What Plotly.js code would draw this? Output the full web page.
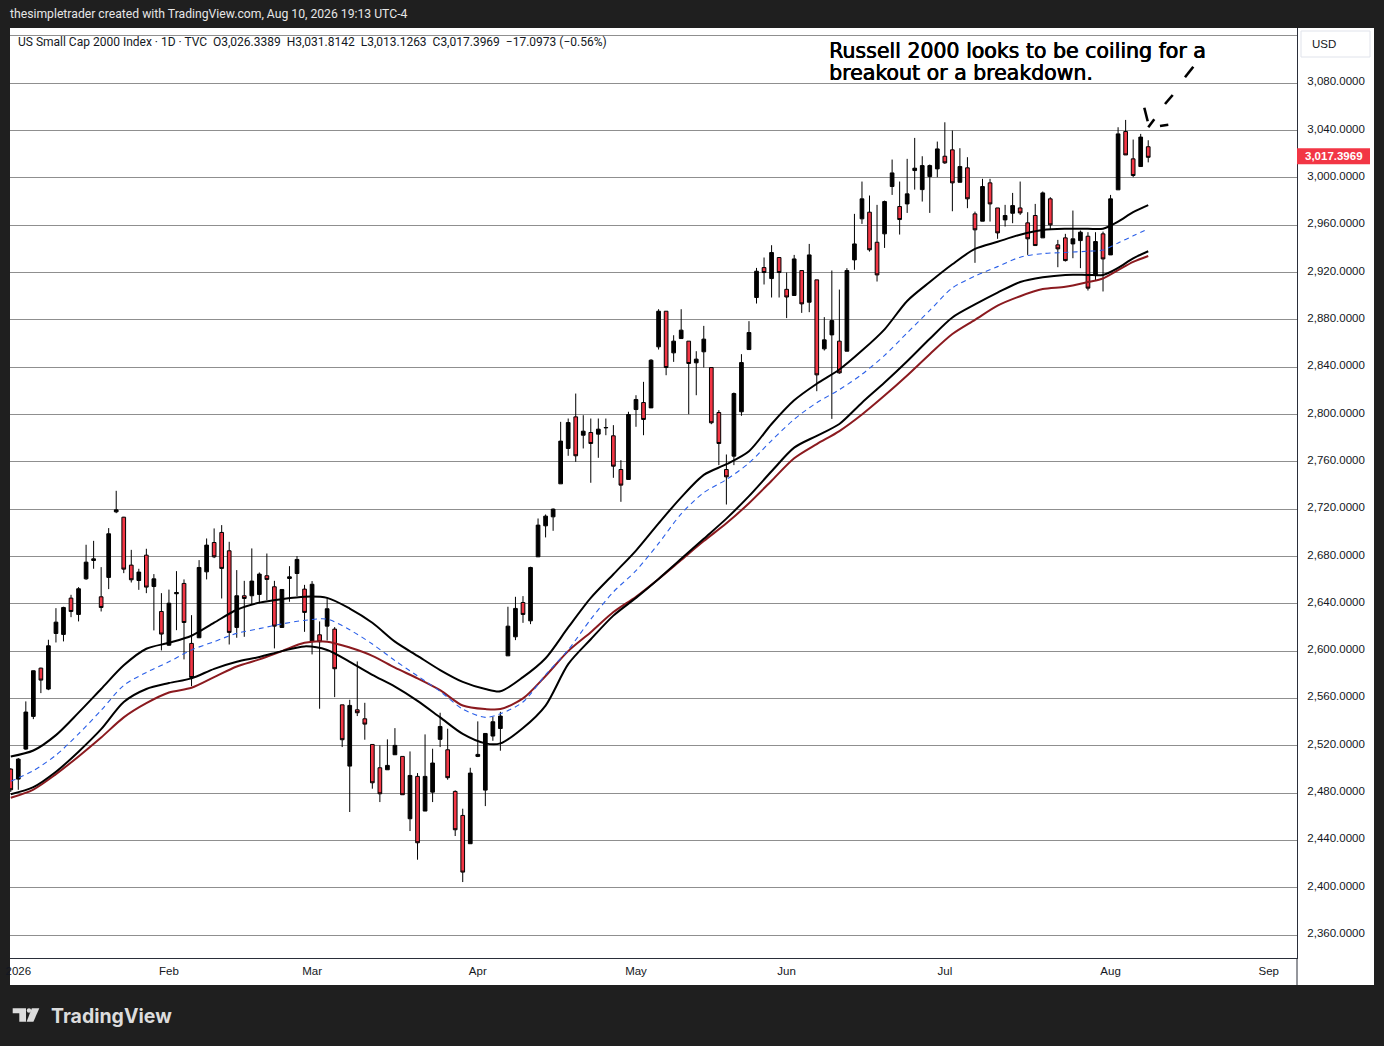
<!DOCTYPE html>
<html>
<head>
<meta charset="utf-8">
<script src="https://cdn.plot.ly/plotly-3.0.1.min.js"></script>
<style>
html,body{margin:0;padding:0;background:#1f1f1f;overflow:hidden;}
#chart{width:1384px;height:1046px;}
</style>
</head>
<body>
<div id="chart"></div>
<script>
// ---------- DATA ----------
const dates = [
'2025-12-31',
'2026-01-02','2026-01-05','2026-01-06','2026-01-07','2026-01-08','2026-01-09','2026-01-12','2026-01-13','2026-01-14','2026-01-15','2026-01-16','2026-01-20','2026-01-21','2026-01-22','2026-01-23','2026-01-26','2026-01-27','2026-01-28','2026-01-29','2026-01-30',
'2026-02-02','2026-02-03','2026-02-04','2026-02-05','2026-02-06','2026-02-09','2026-02-10','2026-02-11','2026-02-12','2026-02-13','2026-02-17','2026-02-18','2026-02-19','2026-02-20','2026-02-23','2026-02-24','2026-02-25','2026-02-26','2026-02-27',
'2026-03-02','2026-03-03','2026-03-04','2026-03-05','2026-03-06','2026-03-09','2026-03-10','2026-03-11','2026-03-12','2026-03-13','2026-03-16','2026-03-17','2026-03-18','2026-03-19','2026-03-20','2026-03-23','2026-03-24','2026-03-25','2026-03-26','2026-03-27','2026-03-30','2026-03-31',
'2026-04-01','2026-04-02','2026-04-06','2026-04-07','2026-04-08','2026-04-09','2026-04-10','2026-04-13','2026-04-14','2026-04-15','2026-04-16','2026-04-17','2026-04-20','2026-04-21','2026-04-22','2026-04-23','2026-04-24','2026-04-27','2026-04-28','2026-04-29','2026-04-30',
'2026-05-01','2026-05-04','2026-05-05','2026-05-06','2026-05-07','2026-05-08','2026-05-11','2026-05-12','2026-05-13','2026-05-14','2026-05-15','2026-05-18','2026-05-19','2026-05-20','2026-05-21','2026-05-22','2026-05-26','2026-05-27','2026-05-28','2026-05-29',
'2026-06-01','2026-06-02','2026-06-03','2026-06-04','2026-06-05','2026-06-08','2026-06-09','2026-06-10','2026-06-11','2026-06-12','2026-06-15','2026-06-16','2026-06-17','2026-06-18','2026-06-22','2026-06-23','2026-06-24','2026-06-25','2026-06-26','2026-06-29','2026-06-30',
'2026-07-01','2026-07-02','2026-07-06','2026-07-07','2026-07-08','2026-07-09','2026-07-10','2026-07-13','2026-07-14','2026-07-15','2026-07-16','2026-07-17','2026-07-20','2026-07-21','2026-07-22','2026-07-23','2026-07-24','2026-07-27','2026-07-28','2026-07-29','2026-07-30','2026-07-31',
'2026-08-03','2026-08-04','2026-08-05','2026-08-06','2026-08-07','2026-08-10'
];
// empty trading days shown to the right of the last bar
const futureDays = [
'2026-08-11','2026-08-12','2026-08-13','2026-08-14','2026-08-17','2026-08-18','2026-08-19','2026-08-20','2026-08-21',
'2026-08-24','2026-08-25','2026-08-26','2026-08-27','2026-08-28','2026-08-31','2026-09-01','2026-09-02','2026-09-03','2026-09-04'
];

const open = [
2500.3,
2491.8,2517.2,2544.8,2585.6,2567.9,2614.9,2614.1,2644.8,2631.0,2661.1,2676.6,2645.9,2662.3,2717.7,2713.2,2672.7,2659.7,2681.1,2654.6,2633.5,
2605.0,2648.5,2657.2,2606.5,2611.3,2667.0,2691.8,2700.3,2684.8,2620.0,2646.8,2646.8,2647.9,2663.7,2654.4,2620.0,2661.4,2665.6,2652.4,
2608.5,2613.8,2621.1,2618.6,2554.6,2502.8,2550.4,2542.8,2521.1,2501.4,2499.7,2512.4,2511.0,2458.3,2494.1,2464.8,2480.8,2525.4,2516.6,2481.4,2461.1,2437.2,
2511.0,2482.5,2528.2,2534.6,2596.0,2612.1,2641.1,2625.6,2679.7,2705.9,2713.5,2741.4,2771.3,2798.0,2782.5,2784.8,2783.4,2788.7,2782.0,2753.5,2745.1,
2804.2,2810.1,2805.6,2857.2,2887.3,2852.1,2864.2,2862.0,2843.7,2853.0,2839.7,2801.7,2753.5,2764.8,2802.3,2854.9,2898.9,2924.2,2914.9,2932.7,
2905.8,2900.6,2921.7,2894.9,2913.8,2855.5,2867.3,2862.0,2853.5,2930.7,2965.4,2971.0,2945.6,2952.7,2992.7,2975.8,2978.0,3006.2,2990.1,3001.1,3007.6,
3018.3,3023.7,2996.3,3008.5,2969.6,2963.4,2995.8,2974.6,2964.5,2970.1,2974.6,2962.0,2968.2,2949.3,2982.3,2943.4,2949.3,2944.2,2947.0,2950.7,2918.0,2952.7,
2934.9,2989.9,3039.2,3016.1,3009.6,3026.3389
];
const high = [
2501.0,
2509.6,2557.5,2583.6,2586.0,2609.6,2636.3,2637.5,2647.6,2654.1,2689.9,2693.2,2671.0,2704.0,2735.5,2713.5,2685.6,2669.6,2686.5,2665.1,2649.0,
2652.0,2667.6,2660.6,2630.4,2676.9,2695.2,2703.7,2706.5,2692.4,2668.5,2659.4,2686.8,2666.5,2682.5,2659.4,2652.1,2671.8,2680.3,2656.0,
2659.2,2625.1,2644.8,2620.3,2554.6,2558.9,2591.3,2556.3,2521.1,2520.3,2525.4,2534.9,2511.0,2515.2,2496.9,2529.6,2517.5,2547.9,2534.4,2482.3,2466.8,2501.4,
2540.6,2530.4,2544.5,2548.7,2637.5,2645.9,2646.5,2671.3,2712.1,2715.5,2720.6,2793.8,2796.6,2817.7,2799.4,2796.6,2796.6,2796.6,2791.0,2761.4,2802.3,
2816.3,2827.6,2846.8,2889.0,2887.3,2867.0,2889.0,2862.0,2853.5,2874.9,2839.7,2803.7,2766.2,2818.6,2851.0,2878.9,2923.9,2932.7,2943.1,2932.7,
2920.0,2934.9,2921.7,2944.2,2913.8,2882.3,2921.7,2905.6,2923.7,2969.6,2996.9,2985.1,2977.2,2980.8,3015.5,2996.9,3016.1,3033.8,3018.3,3011.3,3030.7,
3047.0,3040.0,3025.1,3017.5,2971.5,2999.2,2999.2,2974.6,2977.2,2987.3,2996.9,2971.0,2978.0,2988.5,2983.7,2947.6,2952.7,2972.4,2955.5,2954.1,2954.1,2954.6,
2985.6,3042.8,3049.0,3032.4,3037.2,3031.8142
];
const low = [
2481.0,
2482.8,2516.6,2542.5,2564.5,2567.0,2607.3,2608.2,2628.7,2625.1,2660.3,2669.6,2633.5,2652.4,2716.6,2665.9,2658.0,2651.8,2649.0,2617.5,2600.6,
2604.5,2617.7,2593.0,2570.4,2611.0,2660.6,2678.6,2644.5,2605.6,2611.3,2612.1,2639.4,2640.3,2643.1,2602.3,2620.0,2641.7,2646.5,2616.3,
2597.2,2551.3,2609.0,2561.1,2518.9,2464.0,2545.1,2525.1,2483.7,2472.4,2499.7,2512.4,2478.6,2447.9,2423.7,2464.8,2472.4,2518.9,2491.3,2443.7,2404.8,2437.2,
2510.4,2469.0,2524.2,2515.8,2596.0,2609.3,2623.9,2622.8,2679.7,2696.1,2701.7,2741.4,2765.1,2760.0,2771.3,2742.3,2763.4,2782.5,2746.5,2726.2,2745.1,
2789.6,2782.5,2805.6,2854.9,2833.2,2844.5,2864.2,2800.3,2816.3,2839.7,2791.8,2757.2,2723.9,2757.2,2798.9,2854.9,2893.8,2909.9,2898.9,2898.9,
2881.5,2900.6,2885.9,2886.5,2819.7,2854.1,2796.3,2834.4,2853.5,2922.3,2961.1,2937.7,2912.4,2940.8,2985.6,2952.1,2970.4,2990.1,2980.0,2970.4,3000.6,
3011.8,2971.8,2996.3,2974.4,2928.2,2963.4,2963.1,2948.5,2958.9,2961.7,2968.7,2934.9,2942.8,2949.3,2956.1,2924.5,2929.3,2932.1,2923.7,2904.8,2913.2,2904.0,
2934.9,2989.9,3019.4,3000.6,3009.6,3013.1263
];
const close = [
2482.8,
2508.7,2548.5,2583.4,2575.5,2604.5,2624.5,2636.9,2633.5,2652.7,2675.2,2678.0,2636.9,2699.2,2719.4,2669.3,2660.3,2666.8,2654.1,2661.1,2614.4,
2640.5,2649.5,2624.2,2577.7,2670.7,2689.6,2679.7,2669.9,2615.8,2646.8,2644.5,2659.2,2665.1,2660.6,2621.1,2652.1,2662.8,2677.5,2632.7,
2656.5,2607.9,2635.8,2585.1,2525.1,2554.1,2547.9,2538.3,2488.7,2479.4,2503.4,2520.3,2478.6,2494.9,2438.0,2494.1,2505.4,2536.3,2493.0,2449.0,2413.2,2496.9,
2512.7,2530.4,2540.3,2545.1,2621.1,2636.1,2631.0,2670.7,2706.5,2714.1,2720.0,2777.5,2793.2,2765.1,2785.9,2775.5,2787.6,2789.0,2756.3,2740.3,2800.0,
2812.7,2795.8,2845.9,2887.3,2839.7,2862.0,2871.3,2843.1,2846.8,2863.7,2793.0,2775.5,2747.3,2817.7,2843.9,2869.3,2921.1,2920.0,2936.9,2920.0,
2899.3,2931.5,2893.5,2934.9,2833.5,2863.1,2879.4,2835.2,2921.7,2944.2,2982.3,2939.2,2918.0,2980.0,3004.2,2964.8,2986.5,3008.2,3010.4,3010.4,3024.5,
3012.7,2995.8,3009.6,2982.3,2956.1,2992.7,2978.0,2953.5,2968.2,2976.6,2970.4,2948.5,2942.8,2987.3,2960.3,2940.0,2930.1,2948.5,2954.1,2906.8,2946.2,2931.5,
2982.3,3037.2,3019.4,3002.0,3034.5,3017.3969
];

// moving-average lines at sample dates
const maDates = ['2025-12-31','2026-01-06','2026-01-09','2026-01-14','2026-01-20','2026-01-23','2026-01-28','2026-02-02','2026-02-05','2026-02-10','2026-02-13','2026-02-19','2026-02-24','2026-02-27','2026-03-04','2026-03-09','2026-03-12','2026-03-17','2026-03-20','2026-03-25','2026-03-30','2026-04-02','2026-04-07','2026-04-10','2026-04-15','2026-04-20','2026-04-23','2026-04-28','2026-05-01','2026-05-06','2026-05-11','2026-05-14','2026-05-19','2026-05-22','2026-05-28','2026-06-02','2026-06-05','2026-06-10','2026-06-15','2026-06-18','2026-06-24','2026-06-29','2026-07-02','2026-07-08','2026-07-13','2026-07-16','2026-07-21','2026-07-24','2026-07-29','2026-07-31','2026-08-04','2026-08-06','2026-08-10'];
const maUpper = [2511,2516,2529,2548,2568,2588,2602,2607,2613,2624,2635,2641,2644,2646,2645,2636,2624,2608,2596,2584,2574,2568,2566,2578,2594,2620,2645,2665,2685,2708,2730,2749,2758,2769,2792,2812,2826,2838,2854,2872,2896,2912,2927,2940,2946,2952,2956,2957,2957,2957,2963,2971,2977];
const maBlue  = [2490,2499,2512,2530,2550,2571,2582,2591,2601,2608,2615,2619,2623,2626,2627,2618,2606,2592,2579,2566,2551,2544,2547,2557,2580,2601,2627,2650,2668,2691,2716,2734,2745,2759,2778,2796,2810,2821,2834,2850,2869,2888,2907,2917,2925,2933,2936,2937,2938,2939,2945,2951,2957];
const maLower = [2479,2485,2498,2515,2534,2557,2568,2573,2577,2585,2591,2595,2600,2604,2601,2591,2580,2570,2558,2544,2530,2522,2522,2535,2554,2589,2610,2630,2645,2661,2678,2695,2712,2731,2752,2772,2782,2792,2810,2827,2845,2864,2882,2893,2903,2912,2916,2918,2918,2918,2924,2932,2938];
const maRed   = [2476,2483,2496,2511,2527,2544,2556,2565,2569,2578,2587,2593,2600,2607,2608,2603,2596,2586,2577,2567,2554,2551,2551,2560,2579,2600,2616,2633,2646,2661,2677,2693,2708,2725,2744,2763,2775,2786,2800,2816,2833,2851,2868,2880,2892,2900,2906,2908,2912,2915,2922,2929,2934];

// axis ticks
const monthStarts = ['2026-01-02','2026-02-02','2026-03-02','2026-04-01','2026-05-01','2026-06-01','2026-07-01','2026-08-03','2026-09-01'];
const monthLabels = ['2026','Feb','Mar','Apr','May','Jun','Jul','Aug','Sep'];
const priceTicks = [2360,2400,2440,2480,2520,2560,2600,2640,2680,2720,2760,2800,2840,2880,2920,2960,3000,3040,3080,3120];

// ---------- BUILD ----------
const tradingDays = dates.concat(futureDays);
const idx = d => tradingDays.indexOf(d);
const xs = dates.map(idx);
const maX = maDates.map(idx);
const fmt = v => v.toLocaleString('en-US',{minimumFractionDigits:4,maximumFractionDigits:4});

const L=10, R=1297, T=28, B=958;
const px = v => (v - L) / (R - L);
const py = v => (B - v) / (B - T);

function maTrace(y, color, width, dash) {
  return {type:'scatter', mode:'lines', x:maX, y:y, hoverinfo:'skip',
    line:{color:color, width:width, dash:dash||'solid', shape:'spline', smoothing:0.8}};
}

const traces = [
  maTrace(maRed, '#8b1a1f', 2),
  maTrace(maLower, '#000000', 2),
  maTrace(maBlue, '#2a5fe8', 1.1, '5px,4px'),
  maTrace(maUpper, '#000000', 2),
  {
    type:'candlestick', x:xs, open:open, high:high, low:low, close:close,
    increasing:{line:{color:'#000000', width:1}, fillcolor:'#000000'},
    decreasing:{line:{color:'#000000', width:1}, fillcolor:'#f23645'},
    whiskerwidth:0, hoverinfo:'skip'
  }
];

function seg(x0,y0,x1,y1,w){
  return {type:'line', xref:'paper', yref:'paper', x0:px(x0), y0:py(y0), x1:px(x1), y1:py(y1),
          line:{color:'#000000', width:w||2.6}, layer:'above'};
}
function path(pts, color){
  const d = pts.map((p,i)=> (i?'L':'M') + px(p[0]).toFixed(5) + ',' + py(p[1]).toFixed(5)).join(' ') + ' Z';
  return {type:'path', xref:'paper', yref:'paper', path:d, fillcolor:color, line:{width:0}};
}

const lastClose = close[close.length-1];

const shapes = [
  // white chart panel
  {type:'rect', xref:'paper', yref:'paper', x0:px(10), x1:px(1374), y0:py(985), y1:py(28),
   fillcolor:'#ffffff', line:{width:0}, layer:'below'},
  // separator below price axis
  {type:'line', xref:'paper', yref:'paper', x0:1, x1:1, y0:py(985), y1:0, line:{color:'#2a2e39', width:1}},
  // USD box
  {type:'rect', xref:'paper', yref:'paper', x0:px(1301), x1:px(1370), y0:py(57), y1:py(31),
   fillcolor:'#ffffff', line:{color:'#e0e3eb', width:1}},
  // last price label box
  {type:'rect', xref:'paper', yref:'y', x0:px(1297), x1:px(1370), y0:lastClose-5.9, y1:lastClose+7.6,
   fillcolor:'#f23645', line:{width:0}},
  // hand drawing near the last bars
  seg(1144.3,107.7,1147.7,121.3),
  seg(1148.3,127.3,1154.3,119.3),
  seg(1160,126,1168.3,124.7),
  seg(1165,104,1172.7,95),
  seg(1185,77.3,1193.3,66.7),
  // TradingView logo mark
  path([[12.7,1008.3],[26,1008.3],[26,1021.7],[19.3,1021.7],[19.3,1013.3],[12.7,1013.3]], '#dcdcdc'),
  {type:'circle', xref:'paper', yref:'paper', x0:px(26.8), x1:px(31.2), y0:py(1012.8), y1:py(1008.3), fillcolor:'#dcdcdc', line:{width:0}},
  path([[31.8,1008.3],[39.3,1008.3],[33.4,1021.7],[26.6,1021.7]], '#dcdcdc')
];

const noteFont = {family:'DejaVu Sans, sans-serif', size:20.5, color:'#000000',
                  shadow:'0.55px 0px 0px #000000, 0px 0.3px 0px #000000'};

const annotations = [
  {xref:'paper', yref:'paper', x:px(8), y:py(14), xanchor:'left', yanchor:'middle', showarrow:false,
   text:'thesimpletrader created with TradingView.com, Aug 10, 2026 19:13 UTC-4',
   font:{family:'Roboto, Liberation Sans, sans-serif', size:12.2, color:'#e6e6e6'}},
  {xref:'paper', yref:'paper', x:px(16), y:py(41.5), xanchor:'left', yanchor:'middle', showarrow:false,
   text:'US Small Cap 2000 Index · 1D · TVC&nbsp;&nbsp;O' + fmt(open[open.length-1]) + '&nbsp;&nbsp;H' + fmt(high[high.length-1]) +
        '&nbsp;&nbsp;L' + fmt(low[low.length-1]) + '&nbsp;&nbsp;C' + fmt(lastClose) + '&nbsp;&nbsp;−17.0973 (−0.56%)',
   font:{family:'Roboto, Liberation Sans, sans-serif', size:12, color:'#131722'}},
  {xref:'paper', yref:'paper', x:px(827), y:py(51), xanchor:'left', yanchor:'middle', showarrow:false,
   text:'Russell 2000 looks to be coiling for a', font:noteFont},
  {xref:'paper', yref:'paper', x:px(827), y:py(73), xanchor:'left', yanchor:'middle', showarrow:false,
   text:'breakout or a breakdown.', font:noteFont},
  {xref:'paper', yref:'paper', x:px(1310), y:py(44), xanchor:'left', yanchor:'middle', showarrow:false,
   text:'USD', font:{family:'Liberation Sans, sans-serif', size:11.5, color:'#131722'}},
  {xref:'paper', yref:'y', x:px(1333.5), y:lastClose+0.9, xanchor:'center', yanchor:'middle', showarrow:false,
   text:'<b>' + fmt(lastClose) + '</b>', font:{family:'Liberation Sans, sans-serif', size:11.5, color:'#ffffff'}},
  {xref:'paper', yref:'paper', x:px(49), y:py(1016), xanchor:'left', yanchor:'middle', showarrow:false,
   text:'<b>TradingView</b>', font:{family:'Inter, Roboto, sans-serif', size:19.5, color:'#dcdcdc'}}
];

const layout = {
  width:1384, height:1046,
  margin:{l:L, r:1384-R, t:T, b:1046-B, pad:0},
  paper_bgcolor:'#1f1f1f', plot_bgcolor:'#ffffff',
  showlegend:false,
  xaxis:{type:'linear', range:[-0.1, 170.75], tickvals:monthStarts.map(idx), ticktext:monthLabels,
         showgrid:false, zeroline:false, showline:true, linecolor:'#2a2e39', linewidth:1, ticks:'',
         ticklabelstandoff:2, tickfont:{family:'Liberation Sans, sans-serif', size:11.5, color:'#131722'},
         rangeslider:{visible:false}, fixedrange:true},
  yaxis:{side:'right', range:[2340.6, 3126.7], tickvals:priceTicks,
         ticktext:priceTicks.map(v => v === 3120 ? '' : fmt(v)),
         showgrid:true, gridcolor:'#8f8f8f', gridwidth:1, zeroline:false,
         showline:true, linecolor:'#2a2e39', linewidth:1, ticks:'', ticklabelstandoff:7, ticklabelshift:-2,
         tickfont:{family:'Liberation Sans, sans-serif', size:11.5, color:'#131722'}, fixedrange:true},
  shapes:shapes,
  annotations:annotations
};

Plotly.newPlot('chart', traces, layout, {displayModeBar:false, staticPlot:true});
</script>
</body>
</html>
